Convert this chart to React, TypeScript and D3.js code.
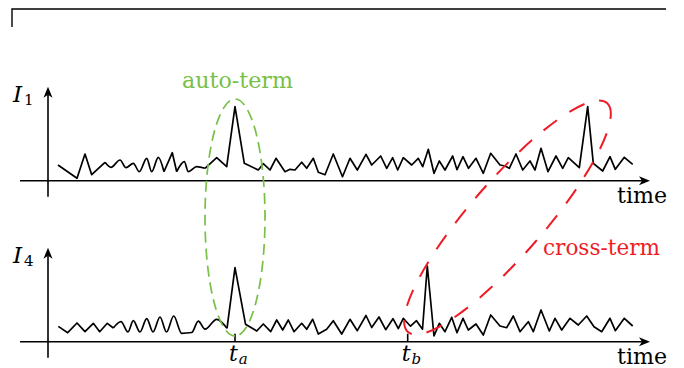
import React from "react";
import * as d3 from "d3";

// time positions (t) and intensities (v)
const T1 = [10, 29, 37, 43.7, 57, 63, 72, 78, 85.3, 91.3, 98.7, 103.7, 110.3, 116, 124.3, 128.7, 136.3, 140.3, 148.7, 157, 168.7, 178.7, 187, 196.3, 210.3, 215.3, 222, 228, 237, 242, 247, 253.7, 258.7, 265.3, 270.3, 277, 285.3, 294.5, 302, 309.3, 318, 323.7, 332.7, 338.7, 344.7, 349.7, 355.3, 363.7, 370.3, 374.7, 380.3, 386, 391.3, 397, 404.7, 409, 415, 420.5, 428, 435.3, 442.7, 452, 457, 461.3, 468, 474.7, 482, 487, 493, 500, 508, 514.7, 520.3, 531.3, 539.7, 545.3, 554.7, 562, 567.3, 576.3, 584.7];
const V1 = [15.7, 2.4, 26.7, 6, 18.4, 13.4, 20.7, 13, 17.4, 9, 22.4, 9, 23.4, 9, 28, 9, 19, 9, 14, 12.4, 23, 14, 74, 17.4, 10.7, 17, 10.7, 22.4, 9, 11.4, 10.7, 18.5, 12.4, 22.4, 8.5, 6, 26.7, 4, 22.4, 10.7, 26.4, 15.7, 24.7, 12.4, 23, 10.7, 23, 15.7, 22.4, 14, 31.4, 7.4, 19.7, 10.7, 24.7, 11, 24, 12.4, 22.4, 7.4, 27.4, 15.7, 14.7, 12.4, 26.7, 10.7, 19.7, 10.7, 32.4, 9, 24.7, 12.4, 23, 13, 74, 17.4, 9.7, 24, 11.4, 23.4, 16.4];
const SMOOTH1 = [[57, 116], [128.7, 157]];

const T2 = [10.3, 19.7, 29, 37, 45.3, 51.7, 59.3, 65.3, 73, 80, 85.3, 92, 98.7, 105, 112, 118.5, 125.7, 133.7, 143.7, 150.3, 157, 168.7, 179, 187, 197.5, 208.7, 215.3, 222.7, 228.7, 234.7, 240.3, 246, 253.7, 258.7, 264.7, 270.3, 278.7, 285.3, 293.7, 302, 309.3, 318, 323.7, 331, 337.7, 345, 350.3, 355.3, 362.5, 368.5, 374.5, 379.3, 386, 391.3, 397, 403.7, 409, 415, 420.3, 428, 435.3, 442.7, 452, 458.7, 465.3, 472, 480.3, 485.3, 493, 501.3, 507, 513.7, 522, 530.3, 538.7, 546, 553.7, 562, 567.3, 576.3, 584.7];
const V2 = [15.3, 9, 18.7, 10, 18.4, 10, 18.4, 13.7, 20, 9.7, 21, 9.7, 23, 9.7, 24.7, 9.7, 25.7, 8.4, 9.2, 20.5, 12.5, 22.4, 13.4, 74, 17.5, 10.7, 17.7, 10, 21.7, 11.7, 21.7, 10, 18.4, 12.4, 22.4, 7.7, 12.4, 21, 7.7, 22.4, 11, 26.2, 14.2, 24.7, 12, 23, 13, 23.4, 15.5, 21, 12.5, 75.7, 5.7, 18.4, 10, 24.4, 9, 23.4, 11.7, 17.7, 6.7, 26.7, 15.7, 14, 25.7, 10, 20, 10, 31.7, 10.7, 23.4, 11.7, 23.4, 16.7, 25.7, 15, 10, 23.4, 11, 23.4, 15.7];
const SMOOTH2 = [[65.3, 179]];

const PANEL_SUBS = ["1", "4"];
const MARK_T = [187, 359.7];
const MARK_SUBS = ["a", "b"];

// ellipse annotations: ends of the long axis (panel, t, v) and half-width in px
const AUTO_TERM = { a: [0, 187, 81.7], b: [1, 187, 5.7], w: 30 };
const CROSS_TERM = { a: [1, 360, 9.7], b: [0, 559, 77.7], w: 37 };

const W = 684;
const H = 368;
const GREEN = "#78c046";
const RED = "#ee1c25";
const FONT = "'DejaVu Serif', serif";

const x = d3.scaleLinear().domain([0, 600]).range([48, 648]);
const axisY = [180.7, 341.7];
const yScales = axisY.map((b) => d3.scaleLinear().domain([0, 100]).range([b, b - 100]));

function pieces(t: number[], v: number[], smooth: number[][]) {
  const inSmooth = (a: number, b: number) => smooth.some(([s, e]) => a >= s && b <= e);
  const out: { pts: [number, number][]; smooth: boolean }[] = [];
  for (let i = 0; i < t.length - 1; i++) {
    const k = inSmooth(t[i], t[i + 1]);
    const last = out[out.length - 1];
    if (last && last.smooth === k) last.pts.push([t[i + 1], v[i + 1]]);
    else out.push({ pts: [[t[i], v[i]], [t[i + 1], v[i + 1]]], smooth: k });
  }
  return out;
}

function Ellipse({ spec, color, dash, sw }: any) {
  const p = (q: number[]) => [x(q[1]), yScales[q[0]](q[2])];
  const [x1, y1] = p(spec.a);
  const [x2, y2] = p(spec.b);
  const cx = (x1 + x2) / 2;
  const cy = (y1 + y2) / 2;
  const rx = Math.hypot(x2 - x1, y2 - y1) / 2;
  const ang = (Math.atan2(y2 - y1, x2 - x1) * 180) / Math.PI;
  return (
    <ellipse
      transform={`translate(${cx},${cy}) rotate(${ang})`}
      rx={rx}
      ry={spec.w}
      fill="none"
      stroke={color}
      strokeWidth={sw}
      strokeDasharray={dash}
    />
  );
}

function Panel({ idx, t, v, smooth }: any) {
  const y = yScales[idx];
  const base = axisY[idx];
  const segs = pieces(t, v, smooth);
  const mark = MARK_T.map((m, i) => ({ m, s: MARK_SUBS[i] })).filter(() => idx === 1);
  return (
    <g>
      {/* axes */}
      <line x1={20} x2={642} y1={base} y2={base} stroke="#000" strokeWidth={1.6} />
      <path d={`M650,${base} L639,${base - 4.5} L642,${base} L639,${base + 4.5} Z`} fill="#000" />
      <line x1={x(0)} x2={x(0)} y1={base + 16} y2={y(86)} stroke="#000" strokeWidth={1.6} />
      <path d={`M${x(0)},${y(94)} L${x(0) - 4.5},${y(83)} L${x(0)},${y(86)} L${x(0) + 4.5},${y(83)} Z`} fill="#000" />
      <text x={617} y={base + 22} fontFamily={FONT} fontSize={22} textLength={50} lengthAdjust="spacingAndGlyphs">time</text>
      <text x={13} y={y(78.5)} fontFamily={FONT} fontSize={23} fontStyle="italic">
        I<tspan fontStyle="normal" fontSize={15} dx={2} dy={3}>{PANEL_SUBS[idx]}</tspan>
      </text>
      {segs.map((s, i) => (
        <path
          key={i}
          d={d3.line().x((d) => x(d[0])).y((d) => y(d[1])).curve(s.smooth ? d3.curveMonotoneX : d3.curveLinear)(s.pts) || ""}
          fill="none"
          stroke="#000"
          strokeWidth={1.7}
          strokeLinejoin="round"
        />
      ))}
      {mark.map((d) => (
        <g key={d.s}>
          <line x1={x(d.m)} x2={x(d.m)} y1={base} y2={base - 8} stroke="#000" strokeWidth={1.6} />
          <text x={x(d.m) - 6} y={base + 19} fontFamily={FONT} fontSize={22} fontStyle="italic">
            t<tspan fontSize={15} dx={1} dy={3}>{d.s}</tspan>
          </text>
        </g>
      ))}
    </g>
  );
}

export default function App() {
  return (
    <svg width={W} height={H} style={{ position: "absolute", left: 0, top: 0, background: "#fff" }}>
      <path d="M12,27 L12,9 L666,9" fill="none" stroke="#000" strokeWidth={1.4} />
      <Panel idx={0} t={T1} v={V1} smooth={SMOOTH1} />
      <Panel idx={1} t={T2} v={V2} smooth={SMOOTH2} />
      <Ellipse spec={AUTO_TERM} color={GREEN} dash="11 6" sw={1.7} />
      <Ellipse spec={CROSS_TERM} color={RED} dash="17 15" sw={2} />
      <text x={182} y={88} fontFamily={FONT} fontSize={22} fill={GREEN} textLength={111} lengthAdjust="spacingAndGlyphs">auto-term</text>
      <text x={543} y={255} fontFamily={FONT} fontSize={22} fill={RED} textLength={117} lengthAdjust="spacingAndGlyphs">cross-term</text>
    </svg>
  );
}
